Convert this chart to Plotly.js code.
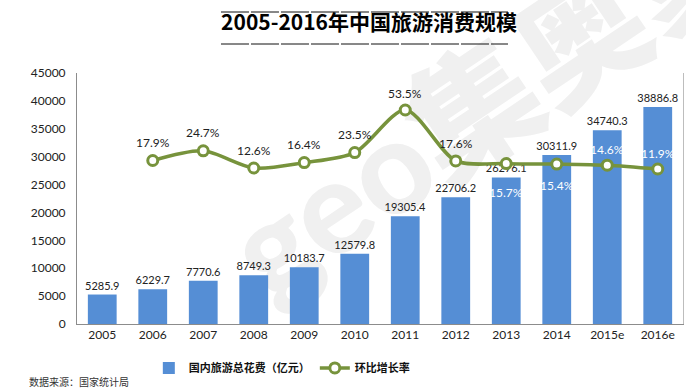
<!DOCTYPE html>
<html>
<head>
<meta charset="utf-8">
<script src="https://cdn.plot.ly/plotly-3.0.1.min.js"></script>
<style>html,body{margin:0;padding:0;background:#fff;}#chart{width:686px;height:389px;}</style>
</head>
<body>
<div id="chart"></div>
<script>
// ---- data ----
const years = ['2005','2006','2007','2008','2009','2010','2011','2012','2013','2014','2015e','2016e'];
const spending = [5285.9, 6229.7, 7770.6, 8749.3, 10183.7, 12579.8, 19305.4, 22706.2, 26276.1, 30311.9, 34740.3, 38886.8];
const growth = [null, 17.9, 24.7, 12.6, 16.4, 23.5, 53.5, 17.6, 15.7, 15.4, 14.6, 11.9];
const barName = '国内旅游总花费（亿元）';
const lineName = '环比增长率';
const titleText = '2005-2016年中国旅游消费规模';
const sourceText = '数据来源：国家统计局';
const watermarkText = 'geo集奥聚合';

// ---- style ----
const cjk = '"Noto Sans CJK SC", sans-serif';
const num = 'Lato, "Noto Sans", sans-serif';
const barColor = '#558ED5';
const lineColor = '#77933C';
const labelShift = [0, 18, 18, 18, 18, 18, 17, 17, -29, -21, 16, 16];
const labelColor = ['#222','#222','#222','#222','#222','#222','#222','#222','#fff','#fff','#fff','#fff'];

const bars = {
  type: 'bar', x: years, y: spending, name: barName,
  marker: {color: barColor},
  text: spending.map(v => v.toFixed(1)), textposition: 'outside', constraintext: 'none',
  textfont: {family: num, size: 11, color: '#222'},
  cliponaxis: false, hoverinfo: 'skip'
};
const line = {
  type: 'scatter', mode: 'lines+markers', x: years, y: growth, yaxis: 'y2', name: lineName,
  line: {color: lineColor, width: 3.5, shape: 'spline', smoothing: 0.8},
  marker: {size: 10, color: '#fff', line: {color: lineColor, width: 3}},
  connectgaps: false, cliponaxis: false, hoverinfo: 'skip'
};

const annotations = [];
growth.forEach((g, i) => {
  if (g === null) return;
  annotations.push({
    x: i, y: g, xref: 'x', yref: 'y2', text: g.toFixed(1) + '%',
    showarrow: false, yshift: labelShift[i], xanchor: 'center', yanchor: 'middle',
    font: {family: num, size: 12, color: labelColor[i]}
  });
});
annotations.push({
  xref: 'paper', yref: 'paper', x: -0.083, y: -0.231, xanchor: 'left', yanchor: 'middle',
  text: sourceText, showarrow: false, font: {family: cjk, size: 10, color: '#333'}
});

// watermark as background image (behind the bars)
const wmSvg = '<svg xmlns="http://www.w3.org/2000/svg" width="686" height="389">' +
  '<text x="555" y="72" transform="rotate(-34 555 72)" text-anchor="middle" dominant-baseline="middle" ' +
  'font-family="Lato, Noto Sans CJK SC, sans-serif" font-weight="900" font-size="130" fill="#f0f0f0">' +
  watermarkText + '</text></svg>';
const wmUri = 'data:image/svg+xml;charset=utf-8,' + encodeURIComponent(wmSvg);

const layout = {
  width: 686, height: 389,
  margin: {l: 77, r: 3, t: 73, b: 65},
  paper_bgcolor: '#fff', plot_bgcolor: 'rgba(0,0,0,0)',
  title: {text: titleText, xref: 'container', yref: 'container', x: 0.538, y: 0.943,
          xanchor: 'center', yanchor: 'middle',
          font: {family: cjk, size: 21, weight: 'bold', color: '#000'}},
  bargap: 0.43,
  showlegend: true,
  legend: {orientation: 'h', x: 0.338, xanchor: 'center', y: -0.175, yanchor: 'middle',
           font: {family: cjk, size: 11, weight: 'bold', color: '#111'}, itemwidth: 30,
           traceorder: 'normal'},
  xaxis: {type: 'category', range: [-0.5, 11.5], showline: true, linecolor: '#8c8c8c', linewidth: 1,
          ticks: '', tickfont: {family: num, size: 12, color: '#222'}, showgrid: false, zeroline: false},
  yaxis: {range: [0, 45000], dtick: 5000, showline: true, linecolor: '#8c8c8c', linewidth: 1,
          ticks: '', showgrid: false, zeroline: false, tickfont: {family: num, size: 12, color: '#222'},
          ticklabelstandoff: 8, tickformat: 'd'},
  yaxis2: {overlaying: 'y', side: 'right', range: [-97.4, 79.6], showline: true, linecolor: '#bdbdbd',
           showticklabels: false, ticks: '', showgrid: false, zeroline: false},
  images: [{source: wmUri, xref: 'paper', yref: 'paper', x: -77/606, y: 324/251,
            sizex: 686/606, sizey: 389/251, sizing: 'stretch', xanchor: 'left', yanchor: 'top', layer: 'below'}],
  shapes: [
    {type: 'line', xref: 'paper', yref: 'paper', x0: 0.2376, x1: 0.7112, y0: 1.243, y1: 1.243,
     line: {color: '#111', width: 1, dash: '28px,2px'}},
    {type: 'line', xref: 'paper', yref: 'paper', x0: 0.2376, x1: 0.7112, y0: 1.1155, y1: 1.1155,
     line: {color: '#111', width: 1, dash: '28px,2px'}}
  ],
  annotations: annotations
};

Plotly.newPlot('chart', [bars, line], layout, {displayModeBar: false, staticPlot: true});
</script>
</body>
</html>
